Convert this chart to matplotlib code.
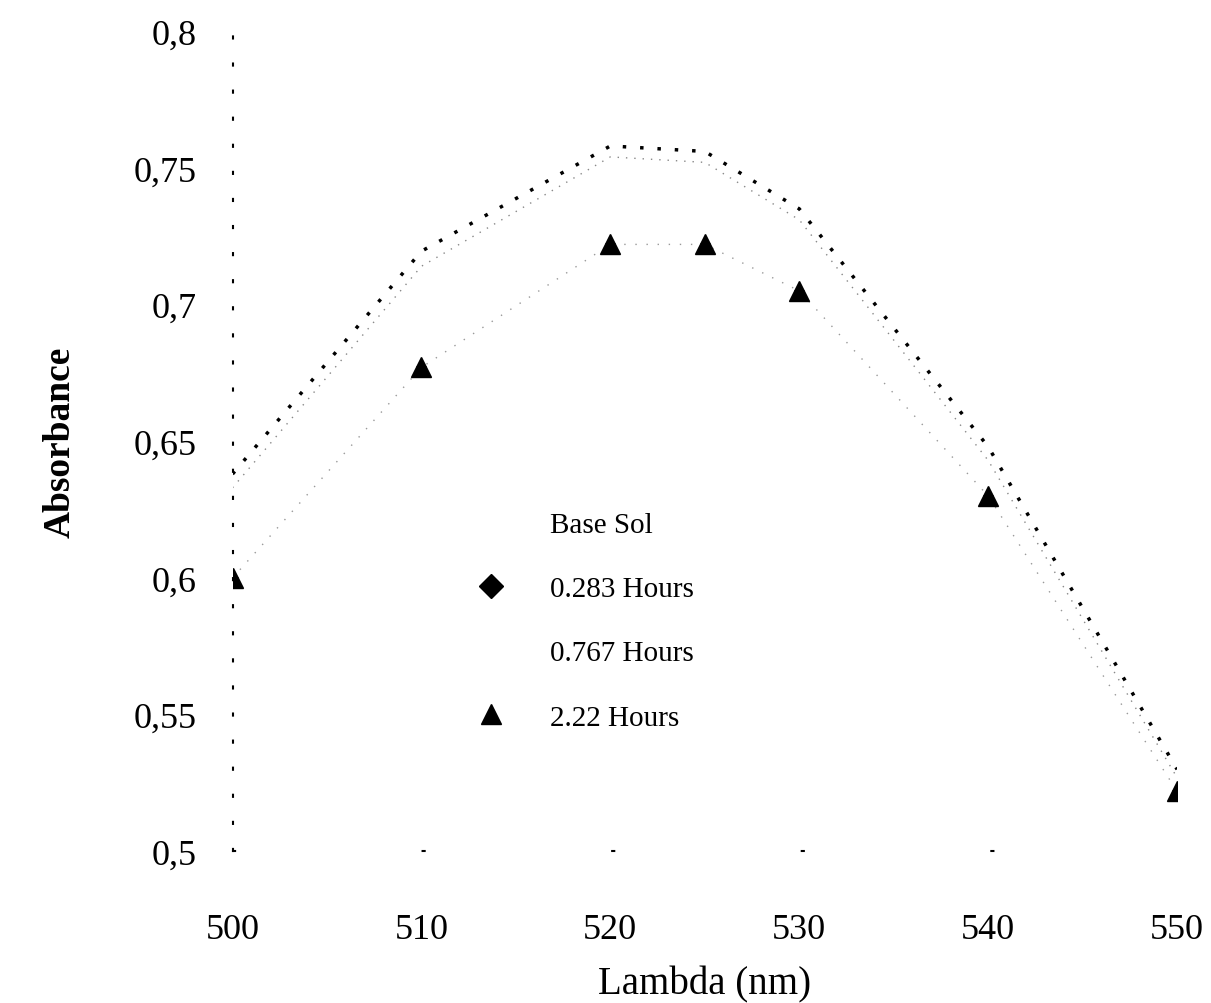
import numpy as np
import matplotlib
matplotlib.use('Agg')
import matplotlib.pyplot as plt

plt.rcParams['font.family'] = ['Liberation Serif', 'DejaVu Serif']

# wavelengths (nm)
lam = [500, 510, 520, 525, 530, 540, 550]

# absorbance readings
base_sol = [0.638, 0.7195, 0.758, 0.756, 0.735, 0.648, 0.530]
h0283 = [0.600, 0.677, 0.722, 0.722, 0.705, 0.630, 0.522]
h0767 = [0.633, 0.714, 0.754, 0.752, 0.731, 0.643, 0.527]
h222 = [0.600, 0.677, 0.722, 0.722, 0.705, 0.630, 0.522]

yticks = [0.5, 0.55, 0.6, 0.65, 0.7, 0.75, 0.8]
ylabels = ['0,5', '0,55', '0,6', '0,65', '0,7', '0,75', '0,8']
xticks = [500, 510, 520, 530, 540, 550]

fig = plt.figure(figsize=(12.11, 10.04), dpi=100)
ax = fig.add_axes([0.192, 0.151, 0.780, 0.817])

ax.plot(lam, base_sol, color='black', lw=2.5, ls=(0, (1, 4)), label='Base Sol')
ax.plot(lam, h0283, color='black', lw=0, marker='D', ms=5, label='0.283 Hours', zorder=2)
ax.plot(lam, h0767, color='#888888', lw=1.0, ls=(0, (1, 5)), label='0.767 Hours')
ax.plot(lam, h222, color='#999999', lw=1.0, ls=(0, (1, 7)), zorder=2)
ax.plot(lam, h222, color='black', lw=0, marker='^', ms=15, label='2.22 Hours', zorder=3)

ax.set_xlim(500, 550)
ax.set_ylim(0.5, 0.8)
ax.set_xticks(xticks)
ax.set_yticks(yticks)
ax.set_yticklabels(ylabels)
ax.tick_params(axis='both', length=0, labelsize=26)
ax.tick_params(axis='y', pad=26)
ax.tick_params(axis='x', pad=44)

for s in ['top', 'right']:
    ax.spines[s].set_visible(False)
ax.spines['left'].set_linestyle((0, (1, 12)))
ax.spines['left'].set_linewidth(1.5)
ax.spines['bottom'].set_linestyle((0, (1, 90)))
ax.spines['bottom'].set_linewidth(1.5)

ax.set_xlabel('Lambda (nm)', fontsize=28, labelpad=14)
ax.set_ylabel('Absorbance', fontsize=27, fontweight='bold', labelpad=40)

handles, labels = ax.get_legend_handles_labels()
leg = ax.legend(handles, labels, loc='upper left', bbox_to_anchor=(0.36, 1 - 486 / 1004),
                bbox_transform=fig.transFigure, frameon=False, fontsize=21,
                labelspacing=1.3, handlelength=2.0, handletextpad=1.0, numpoints=1)
# the line-only series show no sample in the scanned legend
for h in leg.legend_handles:
    if h.get_marker() in (None, 'None', ''):
        h.set_visible(False)
    elif h.get_marker() == 'D':
        h.set_markersize(12)

fig.savefig('out.png', dpi=100)
